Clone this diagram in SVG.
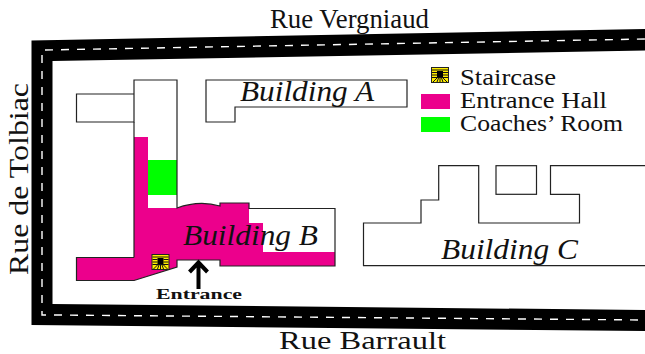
<svg xmlns="http://www.w3.org/2000/svg" xmlns:xlink="http://www.w3.org/1999/xlink" width="645" height="354" viewBox="0 0 645 354">
<style>
text{font-family:"Liberation Serif","Times New Roman",serif;fill:#111}
.wall{fill:none;stroke:#222;stroke-width:1.2}
.dash{fill:none;stroke:#fff;stroke-width:1.4;stroke-dasharray:8 8}
.st{font-size:28px}
.bl{font-size:29px;font-style:italic}
.lg{font-size:23px}
.hall{fill:#ec008c}
.coach{fill:#00ff00}
</style>
<defs>
<symbol id="stair" viewBox="0 0 18 16" overflow="visible">
<rect x="0.5" y="0.5" width="17" height="15" fill="#ffee00" stroke="#222" stroke-width="1"/>
<path d="M1 3H17M1 5.5H6M12 5.5H17M1 8H6M12 8H17M1 10.5H17" fill="none" stroke="#111" stroke-width="1"/>
<rect x="6" y="4" width="6" height="6" fill="#000"/>
<path d="M2 15L6 11M6 15L7.5 11M9 15V11M12 15L10.5 11M16 15L12 11" fill="none" stroke="#111" stroke-width="1"/>
</symbol>
</defs>
<rect width="645" height="354" fill="#fff"/>
<g id="connectors">
<path id="road" d="M31.5 40.5L645 29V50.5L52.5 61V304L645 310V331L31.5 325Z" fill="#000"/>
<path class="dash" d="M45 50L645 39"/>
<path class="dash" d="M42 55V307"/>
<path class="dash" d="M42 311V315H46"/>
<path class="dash" d="M54 315L645 320"/>
</g>
<g id="hall-b">
<path class="hall" d="M134 137H148V208H177Q199 200 220 206V203H249V223H263V252H335V266H220V260H177V267L134 280.5H76.5V257.5H134Z"/>
</g>
<g id="coaches-room">
<rect class="coach" x="148" y="160" width="29" height="35"/>
</g>
<g id="building-left">
<path class="wall" d="M134 257.5H76.5V280.5H134L177 267V260H220V266H335V208.5H249V203H220V206Q199 200 177 208V80H134V122H76.5V94H134"/>
<path class="wall" d="M134 122V257.5"/>
<text class="bl" x="183" y="245" textLength="135" lengthAdjust="spacingAndGlyphs">Building B</text>
</g>
<g id="building-a">
<path class="wall" d="M206 80H407V107H235V122H206Z"/>
<text class="bl" x="240" y="101" textLength="134" lengthAdjust="spacingAndGlyphs">Building A</text>
</g>
<g id="building-c">
<path class="wall" d="M645 265.7H363.5V223H421V200H438.7V165.7H478.7V223H579.5V194.3H550.5V165.7H645"/>
<rect class="wall" x="496" y="165.7" width="40.5" height="28.6"/>
<text class="bl" x="441" y="259" textLength="137" lengthAdjust="spacingAndGlyphs">Building C</text>
</g>
<g id="staircase">
<use href="#stair" xlink:href="#stair" x="151.5" y="254" width="18" height="16"/>
</g>
<g id="entrance">
<path d="M198.5 289V262.5M189.5 272L198.5 262.5L207.5 272" fill="none" stroke="#000" stroke-width="4"/>
<text x="156" y="299" font-size="14" font-weight="bold" textLength="86" lengthAdjust="spacingAndGlyphs">Entrance</text>
</g>
<g id="streets">
<text class="st" x="270" y="28" textLength="159" lengthAdjust="spacingAndGlyphs">Rue Vergniaud</text>
<text x="279" y="348.5" font-size="25" textLength="167" lengthAdjust="spacingAndGlyphs">Rue Barrault</text>
<text class="st" transform="translate(28 275) rotate(-90)" textLength="192" lengthAdjust="spacingAndGlyphs">Rue de Tolbiac</text>
</g>
<g id="legend">
<use href="#stair" xlink:href="#stair" x="431" y="67" width="18" height="16"/>
<text class="lg" x="460" y="85" textLength="96" lengthAdjust="spacingAndGlyphs">Staircase</text>
<rect class="hall" x="421" y="94" width="29" height="15"/>
<text class="lg" x="460" y="108" textLength="147" lengthAdjust="spacingAndGlyphs">Entrance Hall</text>
<rect class="coach" x="421" y="117" width="29" height="15"/>
<text class="lg" x="460" y="131" textLength="163" lengthAdjust="spacingAndGlyphs">Coaches’ Room</text>
</g>
</svg>
